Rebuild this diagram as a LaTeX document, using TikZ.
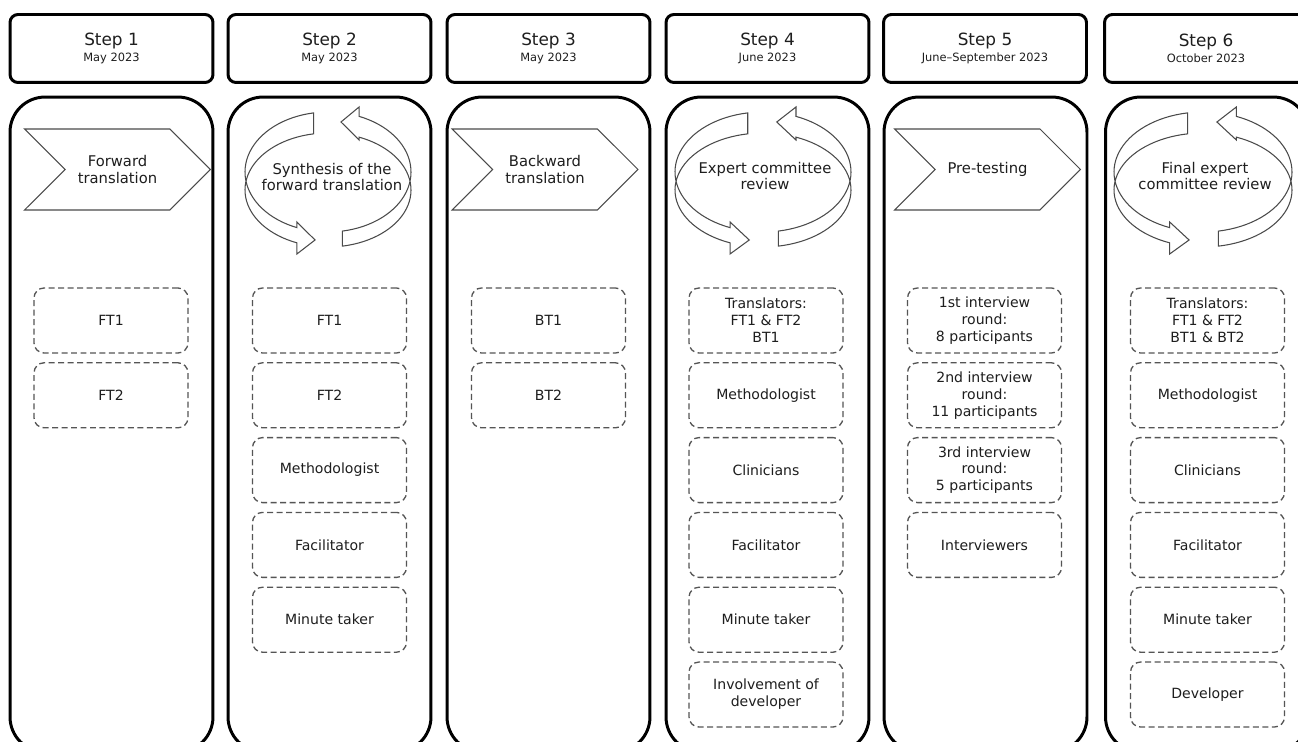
\documentclass[tikz,border=0pt]{standalone}
\usepackage{fontspec}
\setmainfont{DejaVu Sans}
\usepackage{tikz}
\usetikzlibrary{positioning,shapes.symbols}
\definecolor{Ink}{HTML}{1E1E1E}
\definecolor{Edge}{HTML}{4A4A4A}
\definecolor{DashGray}{HTML}{555555}
\newcommand\stepfont{\fontsize{9.6}{9}\selectfont}
\newcommand\datefont{\fontsize{6.5}{8}\selectfont}
\newcommand\mainlab{\fontsize{8.4}{9.6}\selectfont}
\newcommand\boxlab{\fontsize{8}{9.6}\selectfont}

\begin{document}
\begin{tikzpicture}[x=0.02cm,y=-0.02cm,
    stephead/.style={rectangle,rounded corners=1.6mm,draw=black,line width=1.7pt,minimum width=4.06cm,minimum height=1.36cm,align=center,font=\stepfont,text=Ink},
    panel/.style={rectangle,rounded corners=7mm,draw=black,line width=1.7pt,minimum width=4.06cm,minimum height=13.1cm},
    chev/.style={signal,signal from=west,signal to=east,draw=Edge,line width=0.6pt,minimum width=3.72cm,minimum height=1.62cm,align=center,font=\mainlab,text=Ink},
    cyc/.style={draw=Edge,line width=0.6pt,line join=miter},
    cyclab/.style={align=center,font=\mainlab,text=Ink},
    role/.style={rectangle,rounded corners=2mm,draw=DashGray,dash pattern=on 3.4pt off 2pt,line width=0.75pt,minimum width=3.08cm,minimum height=1.3cm,align=center,font=\boxlab,text=Ink},
    node distance=0.17cm
]
\useasboundingbox (0,0) rectangle (1298,742);
\clip (0,0) rectangle (1298,742);
\fill[white] (0,0) rectangle (1298,742);

% step headers
\node[stephead] (s1) at (111.5,48.5) {Step 1\\{\datefont May 2023}};
\node[stephead] (s2) at (329.5,48.5) {Step 2\\{\datefont May 2023}};
\node[stephead] (s3) at (548.5,48.5) {Step 3\\{\datefont May 2023}};
\node[stephead] (s4) at (767.5,48.5) {Step 4\\{\datefont June 2023}};
\node[stephead] (s5) at (985,48.5) {Step 5\\{\datefont June--September 2023}};
\node[stephead] (s6) at (1206,48.5) {Step 6\\{\datefont October 2023}};

% columns
\node[panel] (p1) at (111.5,424.5) {};
\node[panel] (p2) at (329.5,424.5) {};
\node[panel] (p3) at (548.5,424.5) {};
\node[panel] (p4) at (767.5,424.5) {};
\node[panel] (p5) at (985.5,424.5) {};
\node[panel] (p6) at (1207,424.5) {};

% one-way stages
\node[chev] (fwd) at (117.5,169.5) {Forward\\translation};
\node[chev] (bwd) at (545,169.5) {Backward\\translation};
\node[chev] (pretest) at (987.5,169.5) {Pre-testing};

% review cycles
\foreach \cx/\rx in {328/83, 763/88, 1203/89} {
  \draw[cyc] plot[domain=100:248,samples=40] ({\cx+\rx*cos(\x)},{172-60*sin(\x)})
    -- ({\cx-0.3746*\rx},222) -- ({\cx+\rx*cos(261)},240) -- ({\cx-0.3746*\rx},254)
    -- plot[domain=248:100,samples=40] ({\cx+\rx*cos(\x)},{190-57*sin(\x)}) -- cycle;
  \draw[cyc] plot[domain=280:428,samples=40] ({\cx+\rx*cos(\x)},{172-60*sin(\x)})
    -- ({\cx+0.3746*\rx},107) -- ({\cx+\rx*cos(81)},122) -- ({\cx+0.3746*\rx},140)
    -- plot[domain=428:280,samples=40] ({\cx+\rx*cos(\x)},{190-57*sin(\x)}) -- cycle;
}
\node[cyclab] (synth) at (332,177) {Synthesis of the\\forward translation};
\node[cyclab] (expert) at (765,176) {Expert committee\\review};
\node[cyclab] (final) at (1205,176) {Final expert\\committee review};

% step 1
\node[role] (c1ft1) at (111,320.5) {FT1};
\node[role,below=of c1ft1] (c1ft2) {FT2};

% step 2
\node[role] (c2ft1) at (329.5,320.5) {FT1};
\node[role,below=of c2ft1] (c2ft2) {FT2};
\node[role,below=of c2ft2] (c2meth) {Methodologist};
\node[role,below=of c2meth] (c2fac) {Facilitator};
\node[role,below=of c2fac] (c2min) {Minute taker};

% step 3
\node[role] (c3bt1) at (548.5,320.5) {BT1};
\node[role,below=of c3bt1] (c3bt2) {BT2};

% step 4
\node[role] (c4trans) at (766,320.5) {Translators:\\FT1 \& FT2\\BT1};
\node[role,below=of c4trans] (c4meth) {Methodologist};
\node[role,below=of c4meth] (c4clin) {Clinicians};
\node[role,below=of c4clin] (c4fac) {Facilitator};
\node[role,below=of c4fac] (c4min) {Minute taker};
\node[role,below=of c4min] (c4dev) {Involvement of\\developer};

% step 5
\node[role] (c5r1) at (984.5,320.5) {1st interview\\round:\\8 participants};
\node[role,below=of c5r1] (c5r2) {2nd interview\\round:\\11 participants};
\node[role,below=of c5r2] (c5r3) {3rd interview\\round:\\5 participants};
\node[role,below=of c5r3] (c5int) {Interviewers};

% step 6
\node[role] (c6trans) at (1207.5,320.5) {Translators:\\FT1 \& FT2\\BT1 \& BT2};
\node[role,below=of c6trans] (c6meth) {Methodologist};
\node[role,below=of c6meth] (c6clin) {Clinicians};
\node[role,below=of c6clin] (c6fac) {Facilitator};
\node[role,below=of c6fac] (c6min) {Minute taker};
\node[role,below=of c6min] (c6dev) {Developer};
\end{tikzpicture}
\end{document}
